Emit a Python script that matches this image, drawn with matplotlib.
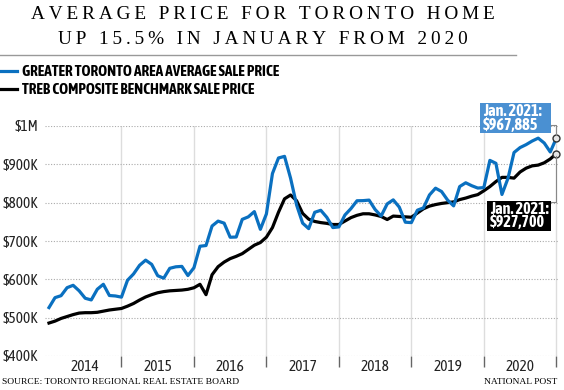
import numpy as np
import matplotlib.pyplot as plt
from matplotlib.lines import Line2D
from matplotlib.patches import Rectangle

# monthly data, Jan 2014 .. Jan 2021
avg_price = [
    526335, 552250, 557367, 578297, 584432, 569945, 550613, 546251, 574162, 587079, 557800, 556602,  # 2014
    553527, 597556, 614033, 636608, 650083, 639102, 609440, 602953, 628769, 632685, 633760, 609858,  # 2015
    630189, 686324, 688181, 739082, 751908, 746546, 709825, 710410, 756442, 762975, 776684, 730472,  # 2016
    770745, 875983, 916567, 920791, 863910, 793915, 746546, 732292, 774853, 780104, 761757, 735021,  # 2017
    736783, 767818, 784558, 804970, 805320, 806666, 782129, 765270, 796786, 807340, 788345, 749014,  # 2018
    747989, 780400, 786348, 820148, 837788, 829089, 806755, 791611, 842041, 851877, 844202, 838087,  # 2019
    839363, 910290, 902680, 821392, 863599, 930869, 943710, 951404, 960772, 968318, 955615, 932222,  # 2020
    967885]
bench_price = [
    486000, 491000, 498000, 503000, 508000, 512000, 513000, 513000, 514000, 517000, 520000, 522000,
    524000, 530000, 537000, 546000, 554000, 560000, 565000, 568000, 570000, 571000, 572000, 574000,
    578000, 587000, 560000, 612000, 633000, 645000, 654000, 660000, 667000, 678000, 689000, 696000,
    710000, 735000, 775000, 810000, 820000, 805000, 772000, 757000, 751000, 748000, 746000, 743000,
    743000, 752000, 761000, 767000, 771000, 771000, 768000, 764000, 756000, 765000, 764000, 763000,
    762000, 773000, 784000, 791000, 795000, 798000, 800000, 802000, 808000, 812000, 817000, 821000,
    831000, 842000, 855000, 866000, 866000, 864000, 880000, 890000, 896000, 898000, 904000, 914000,
    927700]
years = ['2014', '2015', '2016', '2017', '2018', '2019', '2020']
y_ticks = [400000, 500000, 600000, 700000, 800000, 900000, 1000000]
y_labels = ['$400K', '$500K', '$600K', '$700K', '$800K', '$900K', '$1M']

BLUE = '#0a70c0'
LIGHTBLUE = '#4a90d2'
COND = ['Asap Condensed', 'DejaVu Sans']
SERIF = ['Liberation Serif', 'DejaVu Serif']

W, H = 564, 390
fig = plt.figure(figsize=(W / 100, H / 100), dpi=100)

def fx(px):
    return px / W

def fy(py):
    return 1 - py / H

def box(x0, y0, x1, y1, color):
    fig.add_artist(Rectangle((fx(x0), fy(y1)), fx(x1) - fx(x0), fy(y0) - fy(y1),
                             transform=fig.transFigure, fc=color, ec='none', zorder=5))

def seg(xs, ys, color='#888888', lw=0.8, z=5):
    fig.add_artist(Line2D([fx(v) for v in xs], [fy(v) for v in ys], color=color, lw=lw, zorder=z))

ax = fig.add_axes([fx(45), fy(356), fx(558) - fx(45), fy(126) - fy(356)])

x = np.arange(len(avg_price))
ax.plot(x, bench_price, color='black', lw=2.3, zorder=3)
ax.plot(x, avg_price, color=BLUE, lw=2.3, zorder=4)
ax.plot(x[-1], avg_price[-1], 'o', ms=5, mfc='#e6e6e6', mec='#333333', mew=1.0, zorder=6, clip_on=False)
ax.plot(x[-1], bench_price[-1], 'o', ms=5, mfc='#e6e6e6', mec='#333333', mew=1.0, zorder=6, clip_on=False)

ax.set_xlim(-0.66, 84.28)
ax.set_ylim(400000, 1000000)
for s in ax.spines.values():
    s.set_visible(False)

ax.set_yticks(y_ticks)
ax.set_yticklabels(y_labels, family=COND, fontsize=11, color='#222222')
ax.tick_params(axis='y', length=0, pad=5)
ax.grid(axis='y', ls=(0, (1, 1.5)), color='#aaaaaa', lw=0.8)

# year boundaries
for k in range(12, 85, 12):
    ax.axvline(k, color='#dddddd', lw=1, zorder=1)
ax.set_xticks(range(12, 85, 12))
ax.set_xticklabels([])
ax.tick_params(axis='x', which='major', length=8, width=1, color='#666666', direction='out')
ax.set_xticks([6 + 12 * i for i in range(len(years))], minor=True)
ax.set_xticklabels(years, minor=True, family=COND, fontsize=11, color='#222222')
ax.tick_params(axis='x', which='minor', length=0, pad=3)

# callouts (figure pixel positions); baseline = last line
box(480, 102.7, 550.7, 132.7, LIGHTBLUE)
fig.text(fx(483), fy(129.5), 'Jan. 2021:\n$967,885', color='white', fontsize=11.6, fontweight='bold',
         family=COND, va='baseline', linespacing=0.78, zorder=6)
seg([550.7, 555.5, 555.5], [125.3, 125.3, 135])

box(487.3, 201, 550.5, 231, 'black')
fig.text(fx(490), fy(227.3), 'Jan. 2021:\n$927,700', color='white', fontsize=11.6, fontweight='bold',
         family=COND, va='baseline', linespacing=0.78, zorder=6)
seg([555.5, 555.5, 550.5], [156, 201.5, 201.5], z=2)

# title with wide letter spacing
def spaced(s):
    return '\u2009'.join(s)

fig.text(fx(263), fy(19.3), spaced('AVERAGE PRICE FOR TORONTO HOME'), family=SERIF,
         fontsize=13.9, ha='center', va='baseline')
fig.text(fx(263), fy(44.3), spaced('UP 15.5% IN JANUARY FROM 2020'), family=SERIF,
         fontsize=13.9, ha='center', va='baseline')
seg([0, 516], [54.5, 54.5], color='#999999', lw=1)

# legend
seg([0, 17], [71, 71], color=BLUE, lw=2.3)
fig.text(fx(22), fy(71.5), 'GREATER TORONTO AREA AVERAGE SALE PRICE', family=COND,
         fontweight='bold', fontsize=11, va='center')
seg([0, 17], [89.3, 89.3], color='black', lw=2.3)
fig.text(fx(22), fy(89.5), 'TREB COMPOSITE BENCHMARK SALE PRICE', family=COND,
         fontweight='bold', fontsize=11, va='center')

# footer
fig.text(fx(2), fy(382.5), 'SOURCE: TORONTO REGIONAL REAL ESTATE BOARD', family=SERIF,
         fontsize=6.8, va='center')
fig.text(fx(557), fy(382), 'NATIONAL POST', family=SERIF, fontsize=6.8, va='center', ha='right')

fig.savefig('out.png', dpi=100)
